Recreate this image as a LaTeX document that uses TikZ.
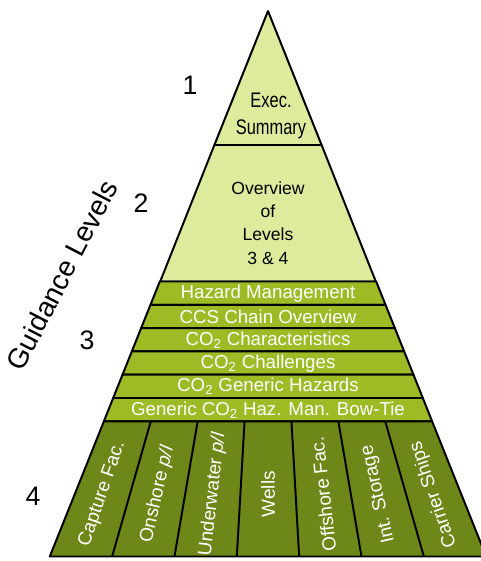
\documentclass[tikz,border=0pt]{standalone}
\usepackage{fontspec}
\setmainfont{Liberation Sans}
\usetikzlibrary{positioning}

\definecolor{lvltop}{HTML}{DDEB9C}
\definecolor{lvlmid}{HTML}{9DBB25}
\definecolor{lvlbase}{HTML}{6E8719}

\begin{document}
\begin{tikzpicture}[x=0.025cm, y=-0.025cm,
  edge/.style={line width=1.4pt, line join=round},
  bandtext/.style={text=white, inner sep=0pt, font=\fontsize{13.3}{15}\selectfont},
  celltext/.style={text=white, inner sep=0pt, sloped, allow upside down, font=\fontsize{13.5}{15}\selectfont},
  levelnum/.style={font=\fontsize{19}{22}\selectfont}]
\useasboundingbox (0,0) rectangle (481,561);

% level 1 and 2
\draw[edge, fill=lvltop] (268,11) -- (214.4,145) -- (321.6,145) -- cycle;
\draw[edge, fill=lvltop] (214.4,145) -- (160.2,281.5) -- (375.8,281.5) -- (321.6,145) -- cycle;
\node[align=center, font=\fontsize{15}{19}\selectfont] (exec) at (271,116)
  {\scalebox{0.78}[1]{Exec.}\\\scalebox{0.78}[1]{Summary}};
\node[align=center, font=\fontsize{12.5}{16.5}\selectfont] (overview) at (268,223)
  {Overview\\of\\Levels\\3 \& 4};

% level 3 bands
\foreach \txt [count=\i from 0] in {Hazard Management, CCS Chain Overview,
    CO\textsubscript{2} Characteristics, CO\textsubscript{2} Challenges,
    CO\textsubscript{2} Generic Hazards, Generic CO\textsubscript{2} Haz. Man. Bow-Tie} {
  \pgfmathsetmacro{\ya}{281.5+23.3*\i}
  \pgfmathsetmacro{\yb}{\ya+23.3}
  \draw[edge, fill=lvlmid] ({268-0.4*(\ya-11)},\ya) -- ({268-0.4*(\yb-11)},\yb)
    -- ({268+0.4*(\yb-11)},\yb) -- ({268+0.4*(\ya-11)},\ya) -- cycle;
  \node[bandtext] (band\i) at (268,{\ya+11.9}) {\txt};
}

% level 4 cells
\draw[edge, fill=lvlbase] (103.9,421.3) -- (49.8,556.5) -- (486.2,556.5) -- (432.1,421.3) -- cycle;
\foreach \i in {1,...,6}
  \draw[edge] ({103.9+46.89*\i},421.3) -- ({49.8+62.34*\i},556.5);
\foreach \txt [count=\i from 0] in {Capture Fac., Onshore \textit{p/l}, Underwater \textit{p/l},
    Wells, Offshore Fac., Int. Storage, Carrier Ships} {
  \coordinate (bot\i) at ({49.8+62.34*(\i+0.5)},556.5);
  \coordinate (top\i) at ({103.9+46.89*(\i+0.5)},421.3);
  \path (bot\i) -- node[celltext, pos=0.46] (cell\i) {\txt} (top\i);
}

% level numbers
\node[levelnum] (num1) at (190,85) {1};
\node[levelnum] (num2) at (141,203) {2};
\node[levelnum] (num3) at (87,340) {3};
\node[levelnum] (num4) at (33,496) {4};
\node[levelnum, font=\fontsize{20}{22}\selectfont, rotate=62.7] (guide) at (62,275) {Guidance Levels};
\end{tikzpicture}
\end{document}
